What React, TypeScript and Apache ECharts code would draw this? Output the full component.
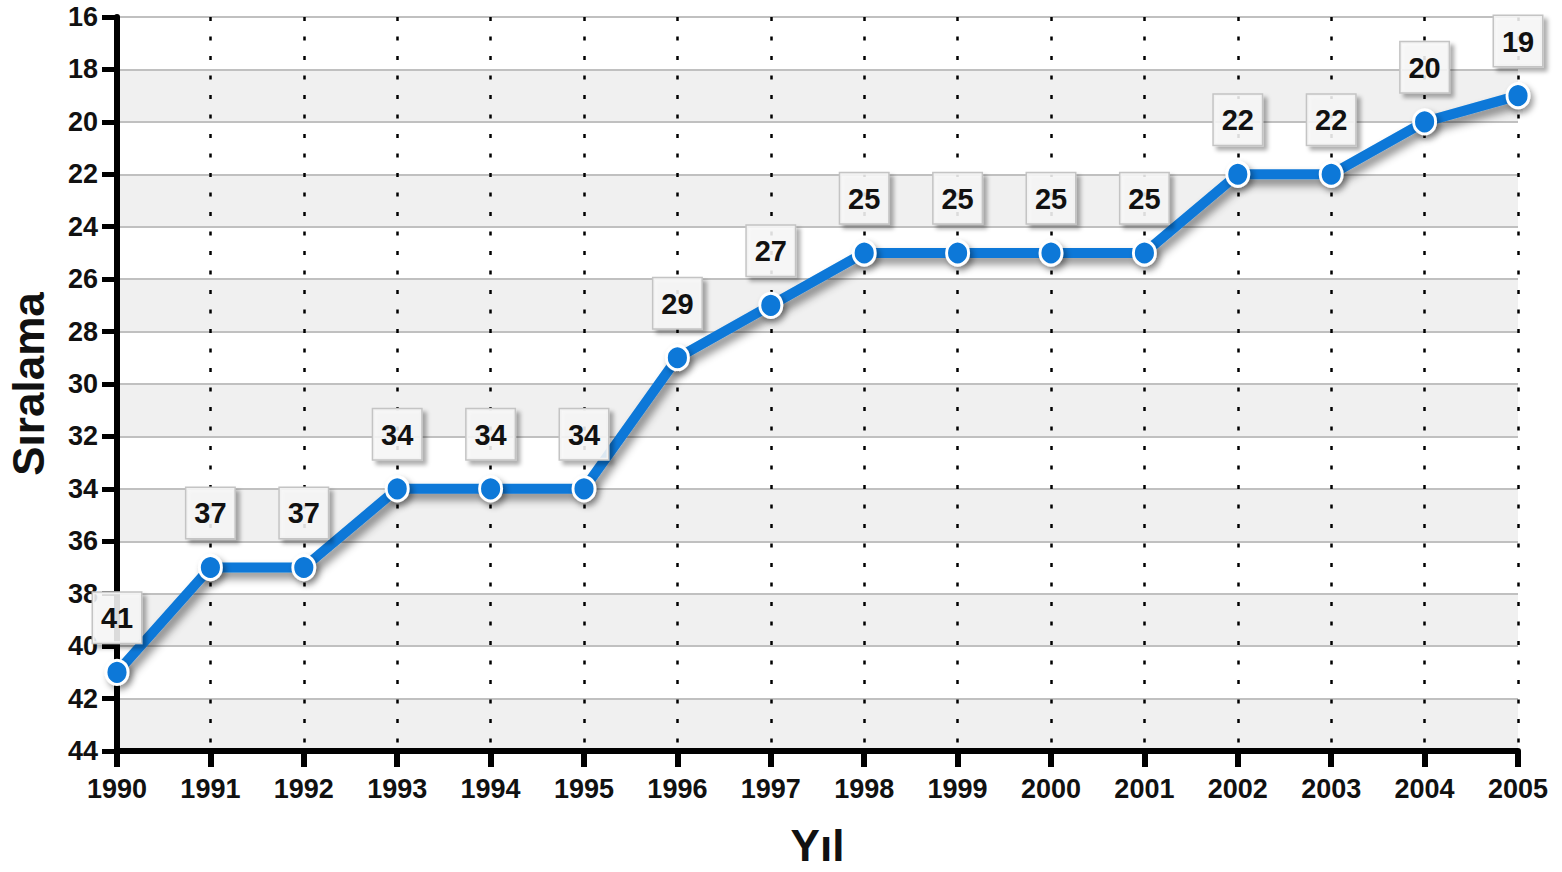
import React, { useEffect, useRef } from "react";
import * as echarts from "echarts";

const years = ["1990","1991","1992","1993","1994","1995","1996","1997","1998","1999","2000","2001","2002","2003","2004","2005"];
const ranks = [41,37,37,34,34,34,29,27,25,25,25,25,22,22,20,19];

const FONT = "'Liberation Sans', Arial, Helvetica, sans-serif";

export default function App() {
  const ref = useRef<HTMLDivElement>(null);
  useEffect(() => {
    const chart = echarts.init(ref.current!, null, { renderer: "svg" });
    chart.setOption({
      animation: false,
      backgroundColor: "#ffffff",
      grid: { left: 117, right: 44, top: 17, bottom: 121, containLabel: false, outerBoundsMode: "none" },
      xAxis: {
        type: "category",
        data: years,
        boundaryGap: false,
        name: "Yıl",
        nameLocation: "middle",
        nameGap: 72,
        nameTextStyle: { fontFamily: FONT, fontWeight: "bold", fontSize: 44, color: "#111" },
        axisLine: { lineStyle: { color: "#000", width: 6 } },
        axisTick: { show: true, length: 16, lineStyle: { color: "#000", width: 6 }, alignWithLabel: true },
        axisLabel: { fontFamily: FONT, fontWeight: "bold", fontSize: 27, color: "#111", margin: 24 },
        splitLine: { show: true, lineStyle: { color: "#000", width: 2.5, type: [4, 15.5] } },
      },
      yAxis: {
        type: "value",
        inverse: true,
        min: 16,
        max: 44,
        interval: 2,
        name: "Sıralama",
        nameLocation: "middle",
        nameGap: 67,
        nameRotate: 90,
        nameTextStyle: { fontFamily: FONT, fontWeight: "bold", fontSize: 44, color: "#111" },
        axisLine: { show: true, lineStyle: { color: "#000", width: 6 } },
        axisTick: { show: true, length: 15, lineStyle: { color: "#000", width: 5 } },
        axisLabel: { fontFamily: FONT, fontWeight: "bold", fontSize: 27, color: "#111", margin: 19 },
        splitLine: { show: true, lineStyle: { color: "#c0c0c0", width: 2 } },
        splitArea: { show: true, areaStyle: { color: ["#ffffff", "#f0f0f0"] } },
      },
      series: [
        {
          type: "line",
          data: ranks,
          symbol: "circle",
          symbolSize: [22, 24],
          lineStyle: { color: "#0a78d8", width: 10, shadowColor: "rgba(0,0,0,0.45)", shadowBlur: 8, shadowOffsetX: 4, shadowOffsetY: 6 },
          itemStyle: { color: "#0a78d8", borderColor: "#ffffff", borderWidth: 3, shadowColor: "rgba(0,0,0,0.4)", shadowBlur: 6, shadowOffsetX: 3, shadowOffsetY: 4 },
          label: {
            show: true,
            position: "top",
            distance: 16,
            fontFamily: FONT,
            fontWeight: "bold",
            fontSize: 29,
            color: "#111",
            backgroundColor: "rgba(250,250,250,0.85)",
            borderColor: "#c4c4c4",
            borderWidth: 1.5,
            width: 32,
            align: "center",
            padding: [11, 8, 10, 8],
            shadowColor: "rgba(0,0,0,0.35)",
            shadowBlur: 4,
            shadowOffsetX: 4,
            shadowOffsetY: 4,
          },
          z: 5,
        },
      ],
    });
    return () => chart.dispose();
  }, []);
  return (
    <div
      ref={ref}
      style={{ position: "absolute", left: 0, top: 0, width: 1562, height: 872 }}
    />
  );
}
